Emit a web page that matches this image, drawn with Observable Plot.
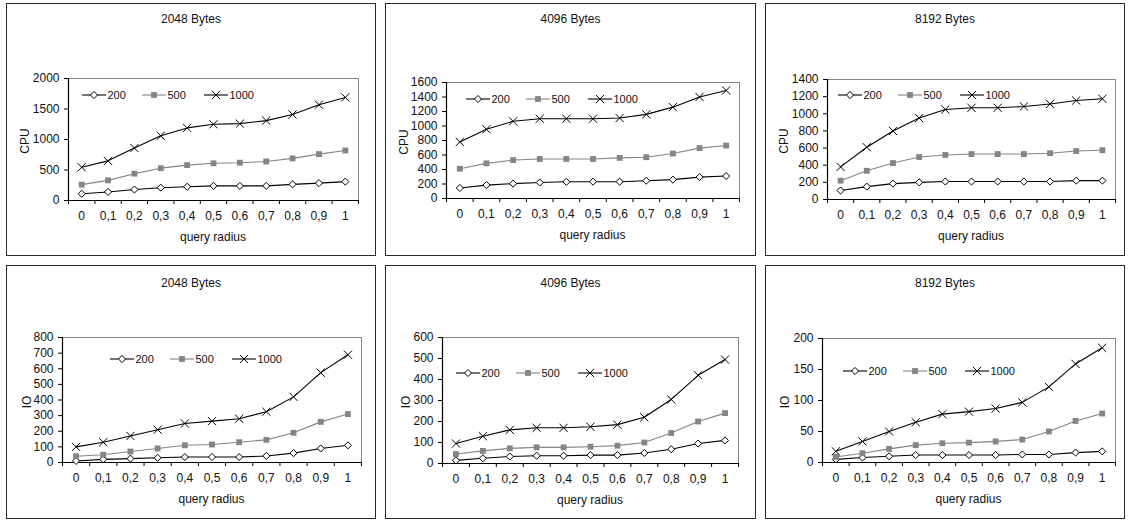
<!DOCTYPE html>
<html><head><meta charset="utf-8">
<script src="https://cdn.jsdelivr.net/npm/d3@7"></script>
<script src="https://cdn.jsdelivr.net/npm/@observablehq/plot@0.6"></script>
<style>
body{margin:0;background:#fff;font-family:"Liberation Sans",Arial,sans-serif;}
#root{position:relative;width:1129px;height:521px;overflow:hidden;background:#fff}
.panel{position:absolute;border:1.5px solid #2a2a2a;box-sizing:border-box}
.txt{position:absolute;white-space:nowrap;color:#111;line-height:1}
svg.plot{position:absolute;overflow:visible}
</style></head><body><div id="root"></div>
<script>
// ---- data ----
const radius = [0, 0.1, 0.2, 0.3, 0.4, 0.5, 0.6, 0.7, 0.8, 0.9, 1];
const radiusLabels = ["0", "0,1", "0,2", "0,3", "0,4", "0,5", "0,6", "0,7", "0,8", "0,9", "1"];
const pageSizes = ["2048 Bytes", "4096 Bytes", "8192 Bytes"];
const seriesNames = ["200", "500", "1000"];
const xTitle = "query radius";
const yTitles = ["CPU", "IO"];

const cpu2048_200  = [110, 140, 180, 210, 225, 240, 240, 240, 265, 285, 310];
const cpu2048_500  = [260, 330, 440, 530, 580, 610, 620, 640, 690, 760, 820];
const cpu2048_1000 = [545, 650, 860, 1060, 1190, 1250, 1260, 1310, 1410, 1570, 1690];

const cpu4096_200  = [145, 185, 205, 220, 230, 232, 232, 245, 260, 295, 310];
const cpu4096_500  = [410, 485, 530, 545, 545, 545, 560, 570, 620, 695, 730];
const cpu4096_1000 = [780, 955, 1065, 1100, 1100, 1100, 1110, 1160, 1260, 1400, 1490];

const cpu8192_200  = [105, 150, 185, 200, 210, 210, 210, 210, 210, 220, 220];
const cpu8192_500  = [220, 335, 425, 495, 520, 530, 530, 530, 540, 565, 575];
const cpu8192_1000 = [380, 610, 800, 950, 1050, 1070, 1070, 1085, 1115, 1155, 1175];

const io2048_200  = [10, 20, 25, 30, 35, 35, 35, 42, 60, 90, 110];
const io2048_500  = [40, 50, 70, 90, 110, 115, 130, 145, 190, 260, 310];
const io2048_1000 = [100, 130, 170, 210, 250, 265, 280, 325, 420, 575, 690];

const io4096_200  = [15, 25, 33, 37, 37, 40, 40, 50, 68, 95, 110];
const io4096_500  = [45, 60, 72, 77, 77, 80, 85, 100, 145, 200, 240];
const io4096_1000 = [95, 130, 160, 170, 170, 175, 185, 220, 305, 420, 495];

const io8192_200  = [5, 8, 10, 12, 12, 12, 12, 13, 13, 16, 18];
const io8192_500  = [9, 15, 22, 28, 31, 32, 34, 37, 50, 67, 79];
const io8192_1000 = [18, 34, 50, 65, 78, 82, 87, 97, 122, 159, 185];

const yTicks = [
  [0, 500, 1000, 1500, 2000],
  [0, 200, 400, 600, 800, 1000, 1200, 1400, 1600],
  [0, 200, 400, 600, 800, 1000, 1200, 1400],
  [0, 100, 200, 300, 400, 500, 600, 700, 800],
  [0, 100, 200, 300, 400, 500, 600],
  [0, 50, 100, 150, 200]
];

const panelSeries = [
  [cpu2048_200, cpu2048_500, cpu2048_1000],
  [cpu4096_200, cpu4096_500, cpu4096_1000],
  [cpu8192_200, cpu8192_500, cpu8192_1000],
  [io2048_200, io2048_500, io2048_1000],
  [io4096_200, io4096_500, io4096_1000],
  [io8192_200, io8192_500, io8192_1000]
];

// ---- layout (page pixels) ----
const boxes = [
  {l: 6, t: 3, r: 376, b: 256}, {l: 385, t: 3, r: 756, b: 256}, {l: 765, t: 3, r: 1125, b: 256},
  {l: 6, t: 265, r: 376, b: 519}, {l: 385, t: 265, r: 756, b: 519}, {l: 765, t: 265, r: 1125, b: 519}
];
const frames = [
  {l: 68, t: 78, r: 358, b: 200}, {l: 446, t: 82, r: 739, b: 198}, {l: 827, t: 79, r: 1115, b: 199},
  {l: 62, t: 337, r: 361, b: 462}, {l: 442, t: 337, r: 738, b: 463}, {l: 822, t: 338, r: 1115, b: 462}
];
const legends = [
  {x: 82, y: 95}, {x: 466, y: 99}, {x: 838, y: 95},
  {x: 110, y: 359}, {x: 456, y: 373}, {x: 843, y: 371}
];
const yLabelOffset = [43, 42, 43, 35, 36, 37];

const GRAY = "#858585";
const FONT = 12;
const seriesStyle = [
  {stroke: "#000", symbol: "diamond2", r: 3.2, fill: "#fff", dotStroke: "#000"},
  {stroke: GRAY, symbol: "square", r: 3.3, fill: GRAY, dotStroke: "none"},
  {stroke: "#000", symbol: "times", r: 3.8, fill: "none", dotStroke: "#000"}
];
const symbolMap = {diamond2: d3.symbolDiamond2, square: d3.symbolSquare, times: d3.symbolTimes};

const root = document.getElementById("root");
const half = 0.05;
const boundaries = radius.map(r => r - half).concat([radius[radius.length - 1] + half]);

function addText(str, x, y, size, rotate) {
  const d = document.createElement("div");
  d.className = "txt";
  d.textContent = str;
  d.style.left = x + "px";
  d.style.top = y + "px";
  d.style.fontSize = size + "px";
  d.style.transform = "translate(-50%,-50%)" + (rotate ? " rotate(-90deg)" : "");
  root.appendChild(d);
}

panelSeries.forEach((series, p) => {
  const box = boxes[p], fr = frames[p];
  const W = box.r - box.l, H = box.b - box.t;
  const ticks = yTicks[p];
  const ymax = ticks[ticks.length - 1];

  const border = document.createElement("div");
  border.className = "panel";
  border.style.left = box.l + "px"; border.style.top = box.t + "px";
  border.style.width = W + "px"; border.style.height = H + "px";
  root.appendChild(border);

  const marks = [
    Plot.frame({stroke: GRAY, strokeWidth: 1}),
    Plot.axisX({ticks: boundaries, tickSize: 4, tickFormat: () => "", label: null, stroke: "#000"}),
    Plot.axisX({ticks: radius, tickSize: 0, tickPadding: 10.5, label: null, fontSize: FONT, fill: "#111",
      tickFormat: d => radiusLabels[radius.indexOf(d)]}),
    Plot.axisY({ticks: ticks, tickSize: 4, tickPadding: 5, label: null, stroke: "#000",
      fontSize: FONT, fill: "#111", tickFormat: d => String(d)}),
    Plot.ruleY([0], {stroke: "#000", strokeWidth: 1.2}),
    Plot.ruleX([boundaries[0]], {stroke: "#000", strokeWidth: 1.2})
  ];
  series.forEach((vals, s) => {
    const st = seriesStyle[s];
    const rows = radius.map((r, i) => ({r, v: vals[i]}));
    marks.push(Plot.line(rows, {x: "r", y: "v", stroke: st.stroke, strokeWidth: 1.1}));
  });
  series.forEach((vals, s) => {
    const st = seriesStyle[s];
    const rows = radius.map((r, i) => ({r, v: vals[i]}));
    marks.push(Plot.dot(rows, {x: "r", y: "v", symbol: st.symbol, r: st.r, fill: st.fill,
      stroke: st.dotStroke, strokeWidth: 1}));
  });

  const svg = Plot.plot({
    width: W, height: H,
    marginLeft: fr.l - box.l, marginRight: box.r - fr.r,
    marginTop: fr.t - box.t, marginBottom: box.b - fr.b,
    style: {fontFamily: "'Liberation Sans', Arial, sans-serif", fontSize: FONT + "px", color: "#111", background: "transparent"},
    x: {domain: [boundaries[0], boundaries[boundaries.length - 1]], label: null},
    y: {domain: [0, ymax], label: null},
    marks
  });
  svg.classList.add("plot");
  svg.style.left = box.l + "px";
  svg.style.top = box.t + "px";
  root.appendChild(svg);

  // titles
  const row = p < 3 ? 0 : 1;
  addText(pageSizes[p % 3], (box.l + box.r) / 2, box.t + (row === 0 ? 15.5 : 18), 12);
  addText(xTitle, (fr.l + fr.r) / 2, fr.b + 37, 12);
  addText(yTitles[row], fr.l - yLabelOffset[p], (fr.t + fr.b) / 2 + 2, 12, true);

  // legend
  const lg = legends[p];
  const offsets = [0, 60, 122];
  seriesNames.forEach((name, s) => {
    const st = seriesStyle[s];
    const item = document.createElement("div");
    item.style.position = "absolute";
    item.style.left = (lg.x + offsets[s]) + "px";
    item.style.top = (lg.y - 7) + "px";
    item.style.height = "14px";
    item.style.display = "flex";
    item.style.alignItems = "center";
    const ns = "http://www.w3.org/2000/svg";
    const sv = document.createElementNS(ns, "svg");
    sv.setAttribute("width", 24); sv.setAttribute("height", 14);
    sv.style.overflow = "visible";
    const ln = document.createElementNS(ns, "line");
    ln.setAttribute("x1", 0); ln.setAttribute("x2", 24);
    ln.setAttribute("y1", 7); ln.setAttribute("y2", 7);
    ln.setAttribute("stroke", st.stroke); ln.setAttribute("stroke-width", 1.1);
    sv.appendChild(ln);
    const pt = document.createElementNS(ns, "path");
    pt.setAttribute("d", d3.symbol(symbolMap[st.symbol], Math.PI * st.r * st.r)());
    pt.setAttribute("transform", "translate(12,7)");
    pt.setAttribute("fill", st.fill); pt.setAttribute("stroke", st.dotStroke);
    sv.appendChild(pt);
    item.appendChild(sv);
    const tx = document.createElement("span");
    tx.textContent = name;
    tx.style.fontSize = "11px";
    tx.style.color = "#111";
    tx.style.marginLeft = "1.5px";
    item.appendChild(tx);
    root.appendChild(item);
  });
});
</script></body></html>
